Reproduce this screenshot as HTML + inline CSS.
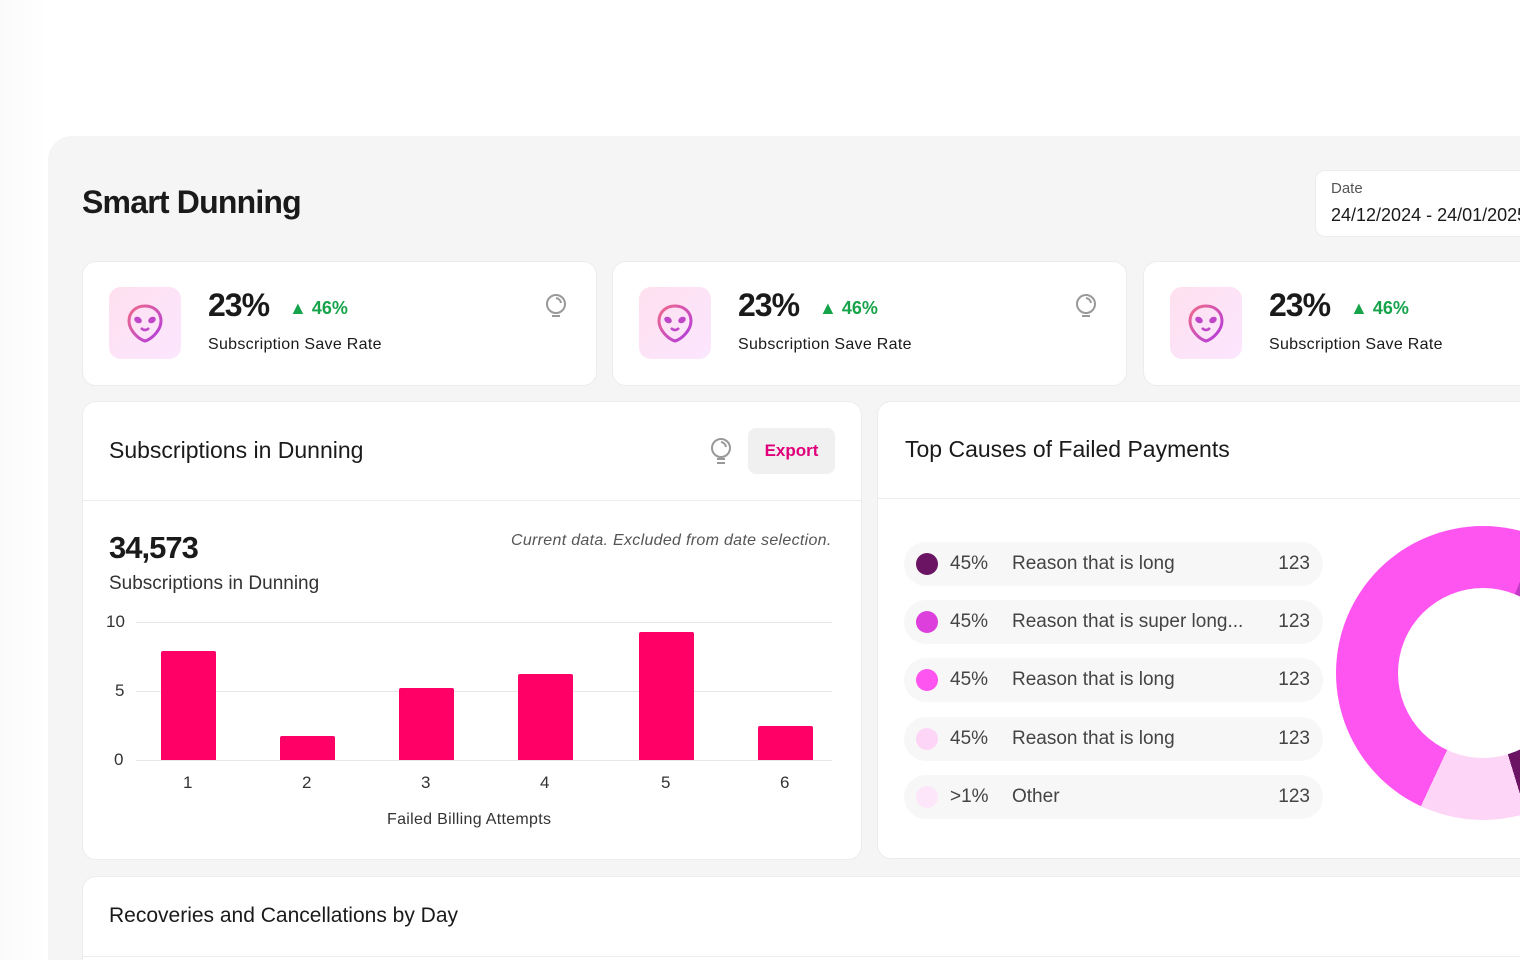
<!DOCTYPE html>
<html><head><style>
*{margin:0;padding:0;box-sizing:border-box}
html,body{width:1520px;height:960px;overflow:hidden}
body{background:#fff;font-family:"Liberation Sans",sans-serif;color:#1a1a1a;position:relative}
.bg{position:absolute;left:0;top:0;width:1520px;height:960px;background:linear-gradient(90deg,#fbfafb 0,#fff 48px)}
.panel{position:absolute;left:48px;top:136px;width:1472px;height:824px;background:#f5f5f5;border-top-left-radius:24px}
.card{position:absolute;background:#fff;border:1px solid #ececec;border-radius:14px}
.a{position:absolute;white-space:nowrap}
.icon{position:absolute;width:72px;height:72px;border-radius:12px;background:linear-gradient(135deg,#ffe0ee,#fbe6ff)}
.row{position:absolute;left:904px;width:419px;height:44px;border-radius:22px;background:#f7f7f7;font-size:19px;color:#444}
.row .d{position:absolute;left:12px;top:11px;width:22px;height:22px;border-radius:50%}
.row span{position:absolute;top:11px}
.bar{position:absolute;background:#ff0066;width:55px;border-radius:2px 2px 0 0}
.grid{position:absolute;left:136px;width:696px;height:1px;background:#e6e6e6}
</style></head><body>
<div class="bg"></div>
<div class="panel"></div>
<div class="a" style="left:82px;top:184px;font-size:32px;font-weight:bold;letter-spacing:-0.8px">Smart Dunning</div>
<div class="card" style="left:1315px;top:170px;width:260px;height:67px;border-radius:10px"></div>
<div class="a" style="left:1331px;top:180px;font-size:15px;color:#555">Date</div>
<div class="a" style="left:1331px;top:205px;font-size:18px">24/12/2024 - 24/01/2025</div>

<div class="card" style="left:82px;top:261px;width:515px;height:125px"></div>
<div class="card" style="left:612px;top:261px;width:515px;height:125px"></div>
<div class="card" style="left:1143px;top:261px;width:515px;height:125px"></div>
<div id="kpis"></div>

<div class="card" style="left:82px;top:401px;width:780px;height:459px"></div>
<div style="position:absolute;left:83px;top:500px;width:778px;height:1px;background:#ececec"></div>
<div class="a" style="left:109px;top:437px;font-size:23px">Subscriptions in Dunning</div>
<svg class="a" style="left:708px;top:436px" width="26" height="30" viewBox="0 0 26 30"><circle cx="13" cy="12" r="9" fill="none" stroke="#999" stroke-width="2"/><path d="M13 6a6 6 0 0 1 5 5" fill="none" stroke="#999" stroke-width="2"/><rect x="9" y="22" width="8" height="2" fill="#999"/><rect x="9" y="26" width="8" height="2" fill="#999"/></svg>
<div class="a" style="left:748px;top:428px;width:87px;height:46px;border-radius:8px;background:#f0f0f0;color:#e0007a;font-weight:bold;font-size:17px;text-align:center;line-height:46px">Export</div>
<div class="a" style="left:109px;top:530px;font-size:31px;font-weight:bold;letter-spacing:-1px">34,573</div>
<div class="a" style="left:109px;top:573px;font-size:19px;color:#333">Subscriptions in Dunning</div>
<div class="a" style="left:511px;top:532px;font-size:16px;font-style:italic;color:#555;letter-spacing:0.3px">Current data. Excluded from date selection.</div>
<div class="grid" style="top:622px"></div><div class="grid" style="top:691px"></div><div class="grid" style="top:760px"></div>
<div class="a" style="left:106px;top:612px;font-size:17px;color:#333">10</div>
<div class="a" style="left:115px;top:681px;font-size:17px;color:#333">5</div>
<div class="a" style="left:114px;top:750px;font-size:17px;color:#333">0</div>
<div class="bar" style="left:161px;top:651px;height:109px"></div>
<div class="bar" style="left:280px;top:736px;height:24px"></div>
<div class="bar" style="left:399px;top:688px;height:72px"></div>
<div class="bar" style="left:518px;top:674px;height:86px"></div>
<div class="bar" style="left:639px;top:632px;height:128px"></div>
<div class="bar" style="left:758px;top:726px;height:34px"></div>
<div class="a" style="left:183px;top:773px;font-size:17px;color:#333">1</div>
<div class="a" style="left:302px;top:773px;font-size:17px;color:#333">2</div>
<div class="a" style="left:421px;top:773px;font-size:17px;color:#333">3</div>
<div class="a" style="left:540px;top:773px;font-size:17px;color:#333">4</div>
<div class="a" style="left:661px;top:773px;font-size:17px;color:#333">5</div>
<div class="a" style="left:780px;top:773px;font-size:17px;color:#333">6</div>
<div class="a" style="left:387px;top:811px;font-size:16px;color:#333;letter-spacing:0.3px">Failed Billing Attempts</div>

<div class="card" style="left:877px;top:401px;width:700px;height:458px"></div>
<div style="position:absolute;left:878px;top:498px;width:650px;height:1px;background:#ececec"></div>
<div class="a" style="left:905px;top:436px;font-size:23px">Top Causes of Failed Payments</div>
<div class="row" style="top:542px"><div class="d" style="background:#6a1463"></div><span style="left:46px">45%</span><span style="left:108px">Reason that is long</span><span style="right:13px">123</span></div>
<div class="row" style="top:600px"><div class="d" style="background:#dc3fdc"></div><span style="left:46px">45%</span><span style="left:108px">Reason that is super long...</span><span style="right:13px">123</span></div>
<div class="row" style="top:658px"><div class="d" style="background:#ff55f0"></div><span style="left:46px">45%</span><span style="left:108px">Reason that is long</span><span style="right:13px">123</span></div>
<div class="row" style="top:717px"><div class="d" style="background:#fdd5f6"></div><span style="left:46px">45%</span><span style="left:108px">Reason that is long</span><span style="right:13px">123</span></div>
<div class="row" style="top:775px"><div class="d" style="background:#fde6f9"></div><span style="left:46px">&gt;1%</span><span style="left:108px">Other</span><span style="right:13px">123</span></div>
<div style="position:absolute;left:1336px;top:526px;width:294px;height:294px;border-radius:50%;background:conic-gradient(#ff55f0 0deg 22deg,#c23ac6 22deg 150deg,#6a1463 150deg 163deg,#fdd5f6 163deg 205deg,#ff55f0 205deg 360deg)"></div>
<div style="position:absolute;left:1398px;top:588px;width:170px;height:170px;border-radius:50%;background:#fff"></div>

<div class="card" style="left:82px;top:876px;width:1500px;height:84px;border-bottom:none;border-radius:14px 14px 0 0"></div>
<div style="position:absolute;left:83px;top:956px;width:1440px;height:1px;background:#ececec"></div>
<div class="a" style="left:109px;top:904px;font-size:21px">Recoveries and Cancellations by Day</div>

<script>
var h='';[82,612,1143].forEach(function(x){
h+='<div class="icon" style="left:'+(x+27)+'px;top:287px"><svg width="72" height="72" viewBox="0 0 72 72"><defs><linearGradient id="g" x1="0" y1="0" x2="1" y2="1"><stop offset="0" stop-color="#f06a8a"/><stop offset="1" stop-color="#b03ae0"/></linearGradient></defs><path d="M36 19c-9 0-16 6-16 15 0 9 9 18 16 20 7-2 16-11 16-20 0-9-7-15-16-15z" fill="none" stroke="url(#g)" stroke-width="3"/><ellipse cx="29" cy="33" rx="4" ry="3" fill="#c046c8" transform="rotate(30 29 33)"/><ellipse cx="43" cy="33" rx="4" ry="3" fill="#c046c8" transform="rotate(-30 43 33)"/><path d="M32 41q4 4 8 0" fill="none" stroke="#c046c8" stroke-width="2.5"/></svg></div>';
h+='<div class="a" style="left:'+(x+126)+'px;top:287px;font-size:32px;font-weight:bold;letter-spacing:-1px">23%</div>';
h+='<div class="a" style="left:'+(x+207)+'px;top:298px;font-size:18px;font-weight:bold;color:#16a34a">&#9650; 46%</div>';
h+='<div class="a" style="left:'+(x+126)+'px;top:336px;font-size:16px;letter-spacing:0.3px">Subscription Save Rate</div>';
if(x<1000)h+='<svg class="a" style="left:'+(x+462)+'px;top:292px" width="24" height="30" viewBox="0 0 24 30"><circle cx="12" cy="12" r="9" fill="none" stroke="#999" stroke-width="2"/><path d="M12 6a6 6 0 0 1 5 5" fill="none" stroke="#999" stroke-width="2"/><rect x="8" y="23" width="8" height="2" fill="#999"/></svg>';
});document.getElementById('kpis').innerHTML=h;
</script>
</body></html>
